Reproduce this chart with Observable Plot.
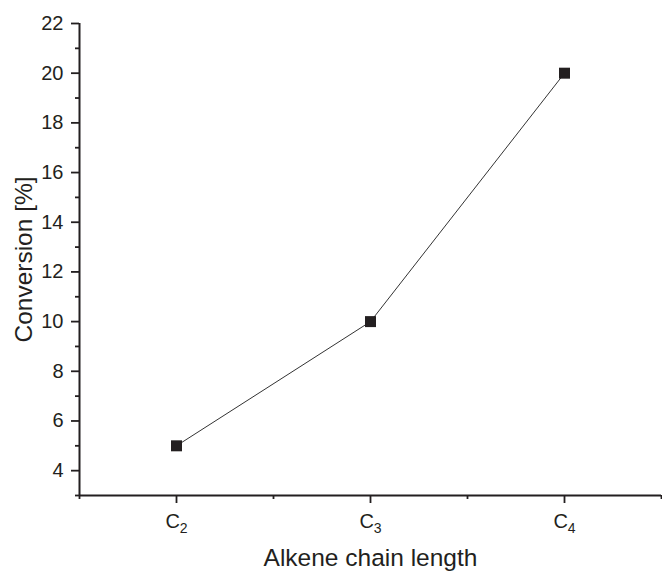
<!DOCTYPE html>
<html>
<head>
<meta charset="utf-8">
<script src="https://cdn.jsdelivr.net/npm/d3@7"></script>
<script src="https://cdn.jsdelivr.net/npm/@observablehq/plot@0.6"></script>
<style>
  html, body { margin: 0; padding: 0; background: #ffffff; }
</style>
</head>
<body>
<div id="chart"></div>
<script>
// Data
const carbonNumbers = [2, 3, 4];
const categoryBase = ["C", "C", "C"];
const categorySub = ["2", "3", "4"];
const conversion = [5, 10, 20];

// Axis ticks
const yMajorTicks = [4, 6, 8, 10, 12, 14, 16, 18, 20, 22];
const yMinorTicks = [3, 5, 7, 9, 11, 13, 15, 17, 19, 21];
const xMinorTicks = [1.5, 2.5, 3.5, 4.5];
const xTitle = "Alkene chain length";
const yTitle = "Conversion [%]";

const data = carbonNumbers.map((c, i) => ({c, v: conversion[i]}));
const ink = "#231f20";

const chart = Plot.plot({
  width: 662,
  height: 571,
  marginLeft: 79,
  marginRight: 1,
  marginTop: 23,
  marginBottom: 76,
  style: {fontFamily: "'Liberation Sans', Arial, sans-serif", color: ink, background: "#ffffff", overflow: "visible"},
  x: {type: "linear", domain: [1.5, 4.5]},
  y: {type: "linear", domain: [3, 22]},
  marks: [
    Plot.axisY(yMinorTicks, {tickSize: 4, text: null, label: null, strokeWidth: 1.8, stroke: ink}),
    Plot.axisY(yMajorTicks, {tickSize: 8, tickPadding: 8, fontSize: 20, label: null, strokeWidth: 1.8, stroke: ink, fill: ink}),
    Plot.axisX(xMinorTicks, {tickSize: 4, text: null, label: null, strokeWidth: 1.8, stroke: ink}),
    Plot.axisX(carbonNumbers, {tickSize: 8, tickPadding: 10, fontSize: 20, label: null, strokeWidth: 1.8, stroke: ink, fill: ink,
      tickFormat: (d) => categoryBase[carbonNumbers.indexOf(d)] + "|" + categorySub[carbonNumbers.indexOf(d)]}),
    Plot.ruleX([1.5], {stroke: ink, strokeWidth: 2}),
    Plot.ruleY([3], {stroke: ink, strokeWidth: 2}),
    Plot.line(data, {x: "c", y: "v", stroke: "#333333", strokeWidth: 1}),
    Plot.dot(data, {x: "c", y: "v", symbol: "square", r: 6.2, fill: ink, stroke: null}),
    Plot.text([yTitle], {frameAnchor: "left", rotate: -90, textAnchor: "middle", lineAnchor: "bottom", dx: -48, fontSize: 24.5, fill: ink}),
    Plot.text([xTitle], {frameAnchor: "bottom", textAnchor: "middle", lineAnchor: "bottom", dy: 70, fontSize: 24.5, fill: ink})
  ]
});

// Render subscripts in the category tick labels as real text (base + lowered smaller digit)
d3.select(chart).selectAll('g[aria-label="x-axis tick label"] text').each(function() {
  const t = d3.select(this);
  const parts = t.text().split("|");
  t.text(null);
  t.append("tspan").text(parts[0]);
  t.append("tspan").attr("font-size", 14).attr("dy", 5).text(parts[1]);
});

document.getElementById("chart").appendChild(chart);
</script>
</body>
</html>
